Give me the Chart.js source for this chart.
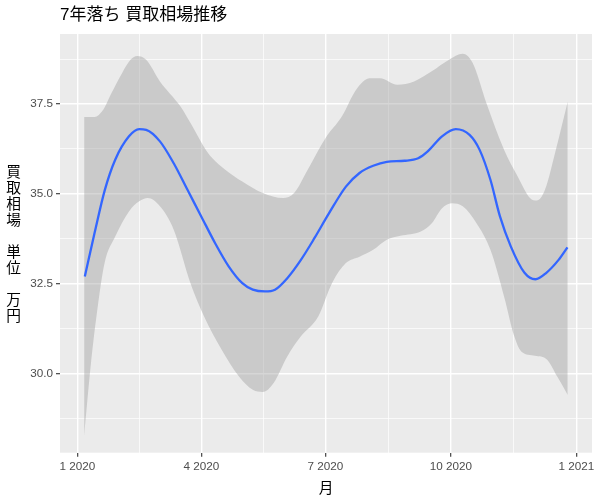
<!DOCTYPE html>
<html>
<head>
<meta charset="utf-8">
<script src="https://cdn.jsdelivr.net/npm/chart.js@4.4.0/dist/chart.umd.min.js"></script>
<style>
  html, body { margin: 0; padding: 0; background: #fff; }
</style>
</head>
<body>
<canvas id="chart" width="600" height="500"></canvas>
<script>
// values, x = days since 1 Jan 2020
const fitDays = [5.5, 12.6, 20.2, 27.8, 37.9, 45.4, 50.5, 60.6, 70.7, 80.8, 90.9, 101, 111, 121, 128.7, 137.6, 145, 154, 164, 174, 184, 197, 207, 217, 227, 240, 250, 257, 267.5, 277.6, 287.7, 295, 303, 310, 318, 328, 336, 344, 353, 359.5];
const fitValues = [32.70, 33.90, 35.11, 35.95, 36.60, 36.80, 36.78, 36.46, 35.85, 35.11, 34.37, 33.63, 32.98, 32.51, 32.33, 32.28, 32.33, 32.65, 33.16, 33.77, 34.42, 35.20, 35.58, 35.78, 35.89, 35.92, 35.99, 36.18, 36.60, 36.80, 36.64, 36.23, 35.39, 34.37, 33.53, 32.80, 32.62, 32.80, 33.16, 33.51];

const upperDays = [5, 12.6, 19, 25, 32.8, 39, 44, 50.5, 60.6, 75.7, 83, 96, 108.5, 121, 136, 151, 159, 169, 182, 194, 204.5, 214.5, 222, 234.7, 247, 260, 272.6, 282.7, 290, 300, 313, 323, 332, 337, 343, 351, 359.7];
const upperValues = [37.14, 37.14, 37.34, 37.80, 38.36, 38.73, 38.84, 38.73, 38.13, 37.43, 36.97, 36.13, 35.67, 35.34, 35.02, 34.88, 35.02, 35.67, 36.55, 37.15, 37.90, 38.22, 38.22, 38.04, 38.13, 38.41, 38.73, 38.90, 38.64, 37.53, 36.23, 35.48, 34.88, 34.81, 35.11, 36.23, 37.57];

const lowerDays = [5, 10, 15, 20, 27.8, 37.9, 45.4, 51.7, 60.6, 70.7, 83, 93, 106, 118.6, 128.7, 136, 144, 154, 164, 176.7, 186.8, 197, 207, 217, 227, 237, 252, 260, 267.5, 275, 282.7, 292.8, 303, 313, 320.5, 325.6, 335.7, 344.6, 352, 359.7];
const lowerValues = [28.26, 30.28, 31.86, 33.07, 33.81, 34.51, 34.79, 34.88, 34.65, 34.00, 32.51, 31.58, 30.65, 29.91, 29.54, 29.48, 29.73, 30.47, 31.03, 31.58, 32.51, 33.07, 33.25, 33.44, 33.72, 33.83, 33.95, 34.18, 34.60, 34.74, 34.65, 34.18, 33.44, 32.14, 31.03, 30.61, 30.49, 30.38, 29.91, 29.40];

// axis ticks
const xMajor = [0, 91, 182, 274, 366];
const xMinor = [45.5, 136.5, 228, 320];
const xLabels = ['1 2020', '4 2020', '7 2020', '10 2020', '1 2021'];
const yMajor = [30, 32.5, 35, 37.5];
const yMinor = [28.75, 31.25, 33.75, 36.25, 38.75];
const yLabels = ['30.0', '32.5', '35.0', '37.5'];

const titleText = '7年落ち 買取相場推移';
const yTitleLines = ['買', '取', '相', '場', '', '単', '位', '', '万', '円'];
const xTitleText = '月';

const sansFont = "'Liberation Sans', Arial, 'Noto Sans CJK JP', sans-serif";
const cjkFont = "'Noto Sans CJK JP', sans-serif";

function points(days, values) {
  return days.map((d, i) => ({x: d, y: values[i]}));
}

function tickList(major, minor) {
  return major.map(v => ({value: v, minor: false}))
    .concat(minor.map(v => ({value: v, minor: true})))
    .sort((a, b) => a.value - b.value);
}

const gridOpts = {
  color: '#FFFFFF',
  lineWidth: c => (c.tick && c.tick.minor) ? 0.7 : 1.4,
  tickColor: c => (c.tick && c.tick.minor) ? 'rgba(0,0,0,0)' : '#333333',
  tickWidth: 1.1,
  tickLength: 4,
  drawTicks: true
};

// grey panel behind the grid, plus title and stacked y title
const panelPlugin = {
  id: 'panel',
  beforeDraw(chart) {
    const ctx = chart.ctx;
    const a = chart.chartArea;
    ctx.save();
    ctx.fillStyle = '#EBEBEB';
    ctx.fillRect(a.left, a.top, a.right - a.left, a.bottom - a.top);
    ctx.restore();
  },
  afterDraw(chart) {
    const ctx = chart.ctx;
    const a = chart.chartArea;
    ctx.save();
    ctx.fillStyle = '#000000';
    ctx.textBaseline = 'middle';
    ctx.textAlign = 'left';
    ctx.font = '17px ' + sansFont;
    ctx.fillText(titleText, a.left, 15.5);

    ctx.textAlign = 'center';
    ctx.font = '14.7px ' + cjkFont;
    const mid = (a.top + a.bottom) / 2 + 0.5;
    yTitleLines.forEach((ch, i) => {
      if (ch) ctx.fillText(ch, 13.5, mid + (i - (yTitleLines.length - 1) / 2) * 16);
    });
    ctx.restore();
  }
};

new Chart(document.getElementById('chart'), {
  type: 'line',
  data: {
    datasets: [
      {
        data: points(fitDays, fitValues),
        borderColor: '#3366FF',
        borderWidth: 2.3,
        pointRadius: 0,
        fill: false,
        cubicInterpolationMode: 'monotone'
      },
      {
        data: points(upperDays, upperValues),
        borderColor: 'rgba(0,0,0,0)',
        borderWidth: 0,
        pointRadius: 0,
        backgroundColor: 'rgba(153,153,153,0.4)',
        fill: '+1',
        cubicInterpolationMode: 'monotone'
      },
      {
        data: points(lowerDays, lowerValues),
        borderColor: 'rgba(0,0,0,0)',
        borderWidth: 0,
        pointRadius: 0,
        fill: false,
        cubicInterpolationMode: 'monotone'
      }
    ]
  },
  options: {
    responsive: false,
    animation: false,
    layout: { padding: { left: 0, right: 8, top: 34, bottom: 0 } },
    plugins: {
      legend: { display: false },
      tooltip: { enabled: false }
    },
    scales: {
      x: {
        type: 'linear',
        min: -12.7,
        max: 377.5,
        afterBuildTicks: s => { s.ticks = tickList(xMajor, xMinor); },
        afterFit: s => { s.height = 47.3; },
        ticks: {
          autoSkip: false,
          maxRotation: 0,
          padding: 3,
          color: '#4D4D4D',
          font: { family: sansFont, size: 11.7 },
          callback: v => {
            const i = xMajor.indexOf(v);
            return i >= 0 ? xLabels[i] : '';
          }
        },
        grid: gridOpts,
        border: { display: false },
        title: {
          display: true,
          text: xTitleText,
          color: '#000000',
          font: { family: cjkFont, size: 14.7 },
          padding: { top: 0, bottom: 4.2 }
        }
      },
      y: {
        type: 'linear',
        min: 27.79,
        max: 39.45,
        afterBuildTicks: s => { s.ticks = tickList(yMajor, yMinor); },
        afterFit: s => { s.width = 60; },
        ticks: {
          autoSkip: false,
          padding: 3,
          color: '#4D4D4D',
          font: { family: sansFont, size: 11.7 },
          callback: v => {
            const i = yMajor.indexOf(v);
            return i >= 0 ? yLabels[i] : '';
          }
        },
        grid: gridOpts,
        border: { display: false }
      }
    }
  },
  plugins: [panelPlugin]
});
</script>
</body>
</html>
